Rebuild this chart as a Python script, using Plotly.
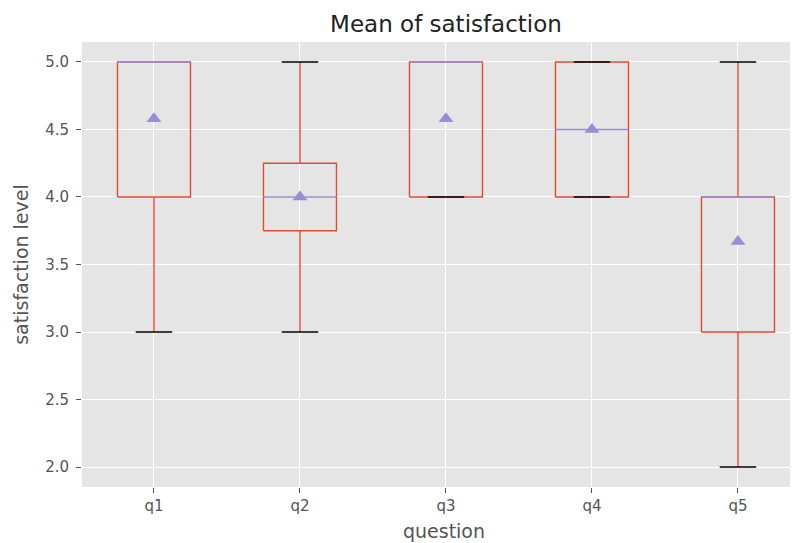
import plotly.graph_objects as go

questions = ["q1", "q2", "q3", "q4", "q5"]
positions = [1, 2, 3, 4, 5]
q1_vals = [4.0, 3.75, 4.0, 4.0, 3.0]
medians = [5.0, 4.0, 5.0, 4.5, 4.0]
q3_vals = [5.0, 4.25, 5.0, 5.0, 4.0]
lower_whiskers = [3.0, 3.0, 4.0, 4.0, 2.0]
upper_whiskers = [5.0, 5.0, 5.0, 5.0, 5.0]
means = [4.58, 4.0, 4.58, 4.5, 3.67]
y_ticks = [2.0, 2.5, 3.0, 3.5, 4.0, 4.5, 5.0]

BOX_W = 0.5
CAP_W = 0.25
RED = "#E24A33"
PURPLE = "#988ED5"
FONT = "DejaVu Sans"
LW = 1.4

fig = go.Figure()

# boxes (rectangles) and whiskers
bx, by = [], []
wx, wy = [], []
for p, a, b, lo, hi in zip(positions, q1_vals, q3_vals, lower_whiskers, upper_whiskers):
    l, r = p - BOX_W / 2, p + BOX_W / 2
    bx += [l, r, r, l, l, None]
    by += [a, a, b, b, a, None]
    wx += [p, p, None, p, p, None]
    wy += [a, lo, None, b, hi, None]
fig.add_trace(go.Scatter(x=wx, y=wy, mode="lines", line=dict(color=RED, width=LW),
                         showlegend=False, hoverinfo="skip"))
fig.add_trace(go.Scatter(x=bx, y=by, mode="lines", line=dict(color=RED, width=LW),
                         showlegend=False, hoverinfo="skip"))

# caps (a cap hidden under a median line of the same level is covered by it)
cx, cy = [], []
for p, lo, hi, m in zip(positions, lower_whiskers, upper_whiskers, medians):
    for v in (lo, hi):
        if v == m:
            continue
        cx += [p - CAP_W / 2, p + CAP_W / 2, None]
        cy += [v, v, None]
fig.add_trace(go.Scatter(x=cx, y=cy, mode="lines", line=dict(color="black", width=LW),
                         showlegend=False, hoverinfo="skip"))

# medians
mx, my = [], []
for p, m in zip(positions, medians):
    mx += [p - BOX_W / 2, p + BOX_W / 2, None]
    my += [m, m, None]
fig.add_trace(go.Scatter(x=mx, y=my, mode="lines", line=dict(color=PURPLE, width=1.6),
                         showlegend=False, hoverinfo="skip"))

# means
fig.add_trace(go.Scatter(x=positions, y=means, mode="markers",
                         marker=dict(symbol="triangle-up", size=13, color=PURPLE,
                                     line=dict(color=PURPLE, width=0)),
                         showlegend=False))

fig.update_layout(
    width=798, height=543,
    margin=dict(l=74, r=0, t=34, b=64, autoexpand=False),
    paper_bgcolor="white", plot_bgcolor="#E5E5E5",
    font=dict(family=FONT, color="#555555", size=15),
    title=dict(text="Mean of satisfaction", x=438 / 798, xanchor="center",
               y=1 - 15.5 / 543, yanchor="middle",
               font=dict(family=FONT, size=23, color="#222222")),
    showlegend=False,
)
fig.update_xaxes(
    range=[0.507, 5.466], tickvals=positions, ticktext=questions, automargin=False,
    showgrid=True, gridcolor="white", gridwidth=1, zeroline=False, showline=False,
    ticks="outside", ticklen=5, tickcolor="#555555", tickwidth=1,
    tickfont=dict(size=15, color="#555555"),
    title=dict(text="question", font=dict(size=19, color="#555555"), standoff=10),
)
fig.update_yaxes(
    range=[1.852, 5.148], tickvals=y_ticks, ticktext=[f"{v:.1f}" for v in y_ticks],
    automargin=False,
    showgrid=True, gridcolor="white", gridwidth=1, zeroline=False, showline=False,
    ticks="outside", ticklen=5, tickcolor="#555555", tickwidth=1, ticklabelstandoff=4,
    tickfont=dict(size=15, color="#555555"),
    title=dict(text="satisfaction level", font=dict(size=19, color="#555555"), standoff=11),
)

fig.write_html("out.html")
